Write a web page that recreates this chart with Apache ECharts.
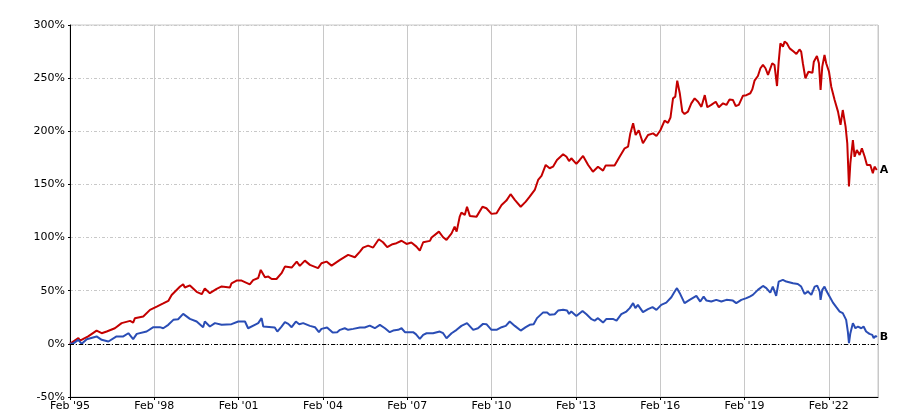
<!DOCTYPE html>
<html><head><meta charset="utf-8">
<script src="https://cdn.jsdelivr.net/npm/echarts@6/dist/echarts.min.js"></script>
<style>html,body{margin:0;padding:0;background:#fff}#c{width:898px;height:420px}</style>
</head><body><div id="c"></div>
<script>
// Dates as decimal years
const yearsA = [1995.08,1995.38,1995.44,1995.73,1996.03,1996.21,1996.39,1996.68,1996.92,1997.22,1997.33,1997.39,1997.69,1997.93,1998.17,1998.40,1998.58,1998.70,1999.00,1999.11,1999.17,1999.35,1999.59,1999.77,1999.88,2000.06,2000.30,2000.48,2000.77,2000.83,2001.01,2001.19,2001.48,2001.60,2001.78,2001.87,2002.02,2002.14,2002.26,2002.43,2002.61,2002.73,2002.97,2003.15,2003.26,2003.44,2003.62,2003.91,2004.03,2004.21,2004.39,2004.69,2004.98,2005.22,2005.40,2005.51,2005.69,2005.87,2006.07,2006.22,2006.37,2006.56,2006.70,2006.88,2007.06,2007.23,2007.41,2007.53,2007.65,2007.89,2007.95,2008.21,2008.36,2008.48,2008.66,2008.77,2008.84,2008.95,2009.01,2009.13,2009.21,2009.31,2009.55,2009.76,2009.90,2010.08,2010.26,2010.44,2010.61,2010.76,2010.91,2011.12,2011.30,2011.44,2011.62,2011.74,2011.86,2012.01,2012.15,2012.27,2012.41,2012.63,2012.75,2012.84,2012.92,2013.10,2013.22,2013.34,2013.52,2013.69,2013.87,2014.05,2014.14,2014.46,2014.64,2014.82,2014.94,2015.02,2015.12,2015.21,2015.32,2015.47,2015.65,2015.83,2015.95,2016.09,2016.24,2016.36,2016.45,2016.54,2016.62,2016.69,2016.78,2016.87,2016.95,2017.07,2017.19,2017.31,2017.43,2017.55,2017.67,2017.76,2017.90,2018.06,2018.17,2018.32,2018.44,2018.55,2018.67,2018.77,2018.88,2019.03,2019.15,2019.29,2019.36,2019.44,2019.56,2019.65,2019.74,2019.83,2019.92,2020.07,2020.15,2020.24,2020.30,2020.36,2020.45,2020.51,2020.59,2020.69,2020.83,2020.93,2021.04,2021.10,2021.16,2021.25,2021.36,2021.50,2021.55,2021.66,2021.73,2021.79,2021.85,2021.93,2021.99,2022.09,2022.17,2022.29,2022.41,2022.50,2022.58,2022.68,2022.74,2022.80,2022.85,2022.94,2023.00,2023.08,2023.18,2023.26,2023.36,2023.44,2023.56,2023.65,2023.71,2023.79];
const valuesA = [0,5.4,3,7,12.5,10,11.6,14.7,19.5,21.6,20,24,25.7,32,35,38,40.4,46,54,56,53,55,49,46.7,52,47.7,51.7,54,53,57,59.5,59.5,56,60,62,69.6,62.7,63.3,61,61,66.5,72.7,71.8,77.4,73.4,78.3,74.3,71.2,75.9,77.4,73.6,79,83.7,81.5,86.8,90.6,92.4,90.6,98.4,95.6,91,93.8,94.7,97,94,95.3,91.5,87.7,95.6,96.9,100,105.6,100.3,97.8,104,110.3,105.6,119.7,123.5,121.3,129,120.4,119.7,129,127.6,122.3,122.9,130.7,134.8,140.8,135.4,129,133.8,138.5,144.8,154.2,158,168.3,165.2,166.7,173,178.4,176,172,174.6,169.3,173,176.8,168.3,162,166.7,163,167.7,167.7,176,184,185.5,198,207.5,196.5,201,188.7,196.5,198,195.6,201,210,208,213,231,232.6,247.6,235.8,218.5,216.3,218.5,226.3,231,227.8,223,234,222.6,224.8,227.8,222.6,226.3,224.8,230,229.5,223.8,224.8,233.5,234,235.8,239.4,247.6,252,259.3,262.4,259.3,253,264,262.4,242.6,265.5,282.8,279.6,284.3,282.8,278,275,272.7,277,275,264,249.9,256,255,265.5,270.8,264,238.8,260.8,271.8,264,256,242,229.5,218.5,206,220,204.4,188.7,148,170,191.8,176,182.4,177.7,184,176,168.3,168.3,160.5,166.7,163.6];

const yearsB = [1995.08,1995.20,1995.38,1995.50,1995.68,1996.03,1996.21,1996.45,1996.74,1996.98,1997.16,1997.33,1997.46,1997.81,1998.05,1998.28,1998.40,1998.58,1998.76,1998.93,1999.11,1999.35,1999.59,1999.82,1999.88,2000.06,2000.24,2000.48,2000.83,2001.07,2001.31,2001.42,2001.66,2001.78,2001.90,2001.96,2002.37,2002.46,2002.61,2002.73,2002.85,2002.97,2003.12,2003.24,2003.38,2003.62,2003.80,2003.94,2004.03,2004.23,2004.43,2004.59,2004.69,2004.86,2004.98,2005.16,2005.40,2005.57,2005.75,2005.93,2006.11,2006.29,2006.46,2006.58,2006.76,2006.88,2007.00,2007.29,2007.39,2007.53,2007.65,2007.77,2008.00,2008.24,2008.36,2008.48,2008.66,2008.84,2009.01,2009.21,2009.43,2009.60,2009.78,2009.90,2010.08,2010.26,2010.44,2010.59,2010.73,2010.91,2011.12,2011.30,2011.44,2011.58,2011.70,2011.91,2012.06,2012.15,2012.33,2012.45,2012.63,2012.77,2012.84,2012.92,2013.10,2013.32,2013.46,2013.64,2013.75,2013.87,2014.05,2014.17,2014.40,2014.53,2014.70,2014.88,2015.00,2015.12,2015.20,2015.29,2015.47,2015.65,2015.81,2015.95,2016.12,2016.30,2016.48,2016.60,2016.68,2016.78,2016.95,2017.13,2017.37,2017.51,2017.63,2017.73,2017.90,2018.08,2018.26,2018.44,2018.67,2018.79,2018.97,2019.15,2019.27,2019.38,2019.56,2019.74,2019.86,2020.00,2020.09,2020.21,2020.30,2020.45,2020.57,2020.81,2020.98,2021.10,2021.22,2021.34,2021.46,2021.58,2021.67,2021.76,2021.79,2021.85,2021.93,2022.01,2022.11,2022.23,2022.35,2022.47,2022.58,2022.64,2022.70,2022.76,2022.80,2022.85,2022.94,2023.03,2023.12,2023.24,2023.32,2023.41,2023.53,2023.63,2023.68,2023.75,2023.79];
const valuesB = [0,0.5,3.8,0,4.4,7,3.8,2.2,7,7,10,4.4,9.4,11.6,15.7,15.7,14.7,17.9,22.6,23.2,28.2,23.5,21,15.7,21,16.3,19.5,17.9,18.5,21,21,14.7,17.9,19.5,24.2,16.3,15.4,11.6,16.3,20.4,18.8,15.7,21,18.5,19.5,16.9,15.7,11,14.1,15.4,10.6,11,13.2,14.7,13.2,14.1,15.4,15.4,17.2,14.7,17.9,14.7,11,12.5,13.2,14.7,11,11,9.1,4.7,8.5,10,10,11.6,10,5.3,10,13.2,16.9,19.5,13.2,14.7,18.8,18.5,13.2,13.2,15.7,16.9,21,16.9,12.5,15.7,17.9,18.5,24.2,29.4,29.4,27.3,27.9,31.3,32,31.3,28.2,30.4,26.3,31,27.9,23.2,21.9,24.2,20,23.5,23.5,21.9,27.9,30.4,33.6,38.3,33.6,36.7,29.8,32.6,34.5,32,36.7,38.8,43.9,49.2,52.4,47.7,38.3,41.4,45.1,39.8,44.5,40.7,39.8,41.4,39.8,41.4,40.7,38.3,41.4,43,44.5,46.1,50.8,54.5,52.4,48.2,53.9,45.1,58.6,60.2,58.6,57,56.4,53.9,47,49.2,46.1,53.9,54.8,49.2,41.4,50.8,53.9,49.2,44.5,38.8,34.5,30.4,28.9,30.4,22.6,11.6,0.7,10,19.5,14.7,16.3,14.7,16.3,11.6,9.4,8.5,5.3,7.5,6.3];

const seriesNames = ['A', 'B'];
const yTicks = [-50, 0, 50, 100, 150, 200, 250, 300];

const START = 1995 + 1 / 12; // Feb 1995
const toM = y => (y - START) * 12;
const pairs = (ys, vs) => ys.map((y, i) => [toM(y), vs[i]]);

const chart = echarts.init(document.getElementById('c'), null, {renderer: 'canvas'});
const font = 'DejaVu Sans';
chart.setOption({
  animation: false,
  backgroundColor: '#ffffff',
  grid: {left: 70, right: 20, top: 25, bottom: 23, show: true, borderColor: '#c8c8c8', borderWidth: 1, backgroundColor: 'transparent'},
  xAxis: {
    type: 'value', min: 0, max: 345, interval: 36,
    axisLine: {show: true, onZero: false, lineStyle: {color: '#000', width: 1}},
    axisTick: {show: true, length: 3, lineStyle: {color: '#000'}},
    axisLabel: {
      margin: 4, color: '#000', fontFamily: font, fontSize: 11, showMaxLabel: false,
      formatter: v => {
        if (Math.round(v) % 36 !== 0) return '';
        const yr = 1995 + Math.round(v) / 12;
        return "Feb '" + String(yr % 100).padStart(2, '0');
      }
    },
    splitLine: {show: true, lineStyle: {color: '#c8c8c8', width: 1, type: 'solid'}}
  },
  yAxis: {
    type: 'value', min: yTicks[0], max: yTicks[yTicks.length - 1], interval: 50,
    axisLine: {show: true, lineStyle: {color: '#000', width: 1}},
    axisTick: {show: true, length: 2, lineStyle: {color: '#000'}},
    axisLabel: {margin: 5, color: '#000', fontFamily: font, fontSize: 11, formatter: '{value}%'},
    splitLine: {show: true, lineStyle: {color: '#c8c8c8', width: 1, type: [3, 2, 1, 2]}}
  },
  series: [
    {
      name: seriesNames[0], type: 'line', data: pairs(yearsA, valuesA), showSymbol: false, symbol: 'none',
      lineStyle: {color: '#c40000', width: 2}, itemStyle: {color: '#c40000'}, z: 3,
      endLabel: {show: true, formatter: seriesNames[0], color: '#000', fontWeight: 'bold', fontFamily: font, fontSize: 11, distance: 3},
      markLine: {
        silent: true, symbol: 'none', label: {show: false},
        lineStyle: {color: '#000', width: 1, type: [4, 2, 1, 2]},
        data: [{yAxis: 0}]
      }
    },
    {
      name: seriesNames[1], type: 'line', data: pairs(yearsB, valuesB), showSymbol: false, symbol: 'none',
      lineStyle: {color: '#2a4db5', width: 2}, itemStyle: {color: '#2a4db5'}, z: 4,
      endLabel: {show: true, formatter: seriesNames[1], color: '#000', fontWeight: 'bold', fontFamily: font, fontSize: 11, distance: 3}
    }
  ]
});
</script>
</body></html>
